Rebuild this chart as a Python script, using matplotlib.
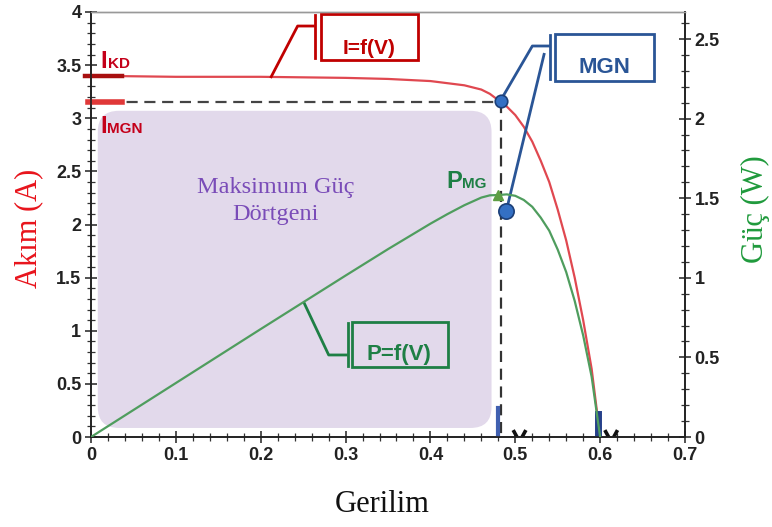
import matplotlib
matplotlib.use("Agg")
import matplotlib.pyplot as plt
from matplotlib.patches import FancyBboxPatch, Rectangle
from matplotlib.ticker import MultipleLocator, FuncFormatter

# ---------------- data ----------------
voltage = [0.0, 0.1, 0.2, 0.3, 0.35, 0.4, 0.42, 0.44, 0.46, 0.47, 0.48, 0.49,
           0.50, 0.51, 0.52, 0.53, 0.54, 0.55, 0.56, 0.57, 0.58, 0.59, 0.60]
current = [3.40, 3.39, 3.39, 3.38, 3.37, 3.35, 3.33, 3.31, 3.27, 3.23, 3.17, 3.11,
           3.03, 2.92, 2.78, 2.60, 2.40, 2.14, 1.85, 1.50, 1.10, 0.64, 0.0]
power = [0.0, 0.339, 0.678, 1.014, 1.18, 1.34, 1.40, 1.456, 1.504, 1.518, 1.52, 1.524,
         1.515, 1.489, 1.446, 1.378, 1.296, 1.177, 1.036, 0.855, 0.638, 0.378, 0.0]

i_kd = 3.40          # short-circuit current
v_mgn = 0.483        # MPP voltage
i_mgn = 3.15         # MPP current
p_mg = 1.52          # MPP power (W)
v_ad = 0.598         # open-circuit voltage
mgn_lower_dot_p = 1.42   # lower blue dot (in W)
v_label_pos = [0.505, 0.613]   # truncated "V" labels under the axis

x_ticks = [0, 0.1, 0.2, 0.3, 0.4, 0.5, 0.6, 0.7]
y_left_ticks = [0, 0.5, 1, 1.5, 2, 2.5, 3, 3.5, 4]
y_right_ticks = [0, 0.5, 1, 1.5, 2, 2.5]

# ---------------- style ----------------
RED_CURVE = "#e04850"
RED_TXT = "#c4001a"
GREEN_CURVE = "#4f9d5e"
GREEN_TXT = "#1e7f45"
BLUE = "#2a5596"
DOT = "#3470c4"
PURPLE_FILL = "#e2d9eb"
PURPLE_TXT = "#7a4cb8"
SANS = "Liberation Sans"
SERIF = "Liberation Serif"

W, H = 772, 527
fig = plt.figure(figsize=(W / 100, H / 100), dpi=100)
L, R, B, T = 91, 685, 437, 12
ax = fig.add_axes([L / W, 1 - B / H, (R - L) / W, (B - T) / H])
ax2 = ax.twinx()

ax.set_xlim(0, 0.7)
ax.set_ylim(0, 4)
ax2.set_ylim(0, 4 * 106.25 / 159.2)

fmt = FuncFormatter(lambda v, p: ("%g" % round(v, 3)))
ax.set_xticks(x_ticks)
ax.set_yticks(y_left_ticks)
ax2.set_yticks(y_right_ticks)
for a in (ax.xaxis, ax.yaxis, ax2.yaxis):
    a.set_major_formatter(fmt)
ax.xaxis.set_minor_locator(MultipleLocator(0.02))
ax.yaxis.set_minor_locator(MultipleLocator(0.1))
ax2.yaxis.set_minor_locator(MultipleLocator(0.1))

for a in (ax, ax2):
    a.tick_params(which="major", direction="inout", length=8, width=1.1, color="#222222",
                  labelsize=13, labelcolor="#222222", pad=3)
    a.tick_params(which="minor", direction="inout", length=6, width=0.9, color="#333333")
    for lab in a.get_xticklabels() + a.get_yticklabels():
        lab.set_fontfamily(SANS)
        lab.set_fontweight("bold")
for a in (ax, ax2):
    for s in ("left", "right", "bottom"):
        a.spines[s].set_color("#222222")
        a.spines[s].set_linewidth(1.2)
    a.spines["top"].set_color("#999999")
    a.spines["top"].set_linewidth(1.0)

# purple "maximum power rectangle" (rounded corners in pixel space)
x_px = 846.0  # pixels per volt
y_px = 106.25  # pixels per amp
rad = 21 / x_px
rect = FancyBboxPatch((0.008 + rad, 0.085 + rad * x_px / y_px),
                      0.472 - 0.008 - 2 * rad, 3.07 - 0.085 - 2 * rad * x_px / y_px,
                      boxstyle="round,pad=%f" % rad, mutation_aspect=x_px / y_px,
                      facecolor=PURPLE_FILL, edgecolor="none", zorder=1)
ax.add_patch(rect)
ax.text(0.2175, 2.22, "Maksimum Güç\nDörtgeni", color=PURPLE_TXT, family=SERIF,
        fontsize=17.5, ha="center", va="center", linespacing=1.35, zorder=2)

# dashed MPP guides
ax.plot([0, v_mgn], [i_mgn, i_mgn], color="#444444", lw=1.6, ls=(0, (5, 3)), zorder=3)
ax.plot([v_mgn, v_mgn], [i_mgn, 0], color="#333333", lw=1.6, ls=(0, (5, 3)), zorder=3)

# I-V curve
ax.plot(voltage, current, color=RED_CURVE, lw=1.6, zorder=4)
# P-V curve
ax2.plot(voltage, power, color=GREEN_CURVE, lw=1.6, zorder=4)
ax2.plot([v_mgn - 0.003], [p_mg], marker="^", ms=7, color="#5e9e44", zorder=5)

# short coloured markers on the axes
ax.plot([-0.007, 0.037], [i_kd, i_kd], color="#a81010", lw=3.2, clip_on=False, zorder=5)
ax.plot([-0.004, 0.037], [i_mgn, i_mgn], color="#e03838", lw=4, clip_on=False, zorder=5)
ax.plot([0.48, 0.48], [0, 0.27], color="#4060b0", lw=3, zorder=5)
ax.plot([v_ad, v_ad], [0, 0.22], color="#26408a", lw=5, zorder=5)

# tops of the truncated "V" labels peeking above the x axis
for vx in v_label_pos:
    ax.plot([vx - 0.0075, vx - 0.003], [0.065, 0.0], color="#111111", lw=2.6,
            solid_capstyle="butt", zorder=6)
    ax.plot([vx + 0.003, vx + 0.0075], [0.0, 0.065], color="#111111", lw=2.6,
            solid_capstyle="butt", zorder=6)

# labels I_KD, I_MGN, P_MG
def sub_label(x, y, big, small, color, xs):
    ax.text(x, y, big, family=SANS, fontweight="bold", fontsize=17, color=color,
            ha="left", va="baseline", zorder=7)
    ax.text(xs, y, small, family=SANS, fontweight="bold", fontsize=11, color=color,
            ha="left", va="baseline", zorder=7)

sub_label(0.0105, 3.473, "I", "KD", RED_TXT, 0.0195)
sub_label(0.0105, 2.861, "I", "MGN", RED_TXT, 0.0185)
sub_label(0.4185, 2.344, "P", "MG", GREEN_TXT, 0.4375)

# call-out boxes
def callout(x0, x1, y0, y1, barx, bary0, bary1, legs, text, tx, ty, color, fs):
    ax.add_patch(Rectangle((x0, y0), x1 - x0, y1 - y0, fill=False, edgecolor=color,
                           lw=2, clip_on=False, zorder=8))
    ax.plot([barx, barx], [bary0, bary1], color=color, lw=2, clip_on=False, zorder=8)
    for xs, ys in legs:
        ax.plot(xs, ys, color=color, lw=2, clip_on=False, zorder=8,
                solid_capstyle="butt")
    ax.text(tx, ty, text, color=color, family=SANS, fontweight="bold", fontsize=fs,
            ha="center", va="center", zorder=9)

callout(0.2707, 0.3853, 3.548, 3.981, 0.2636, 3.567, 3.972,
        [([0.2116, 0.2435, 0.2636], [3.379, 3.868, 3.868])],
        "I=f(V)", 0.3274, 3.655, "#c00000", 15)

callout(0.5473, 0.6631, 3.351, 3.793, 0.5414, 3.369, 3.784,
        [([0.4823, 0.5201, 0.5414], [3.162, 3.68, 3.68]),
         ([0.4894, 0.5343], [2.127, 3.614])],
        "MGN", 0.6052, 3.48, BLUE, 16)

callout(0.3073, 0.4208, 0.659, 1.082, 0.3026, 0.668, 1.073,
        [([0.2506, 0.2801, 0.3026], [1.271, 0.772, 0.772])],
        "P=f(V)", 0.3629, 0.772, GREEN_TXT, 16)

# blue MPP dots
ax.plot([v_mgn], [i_mgn + 0.01], marker="o", ms=9, mfc=DOT, mec="#1c3f78", mew=1.2,
        zorder=10, clip_on=False)
ax2.plot([0.4894], [mgn_lower_dot_p], marker="o", ms=11, mfc=DOT, mec="#1c3f78", mew=1.2,
         zorder=10)

# axis titles
fig.text(29 / W, 1 - 228 / H, "Akım (A)", family=SERIF, fontsize=22, color="#e8141c",
         rotation=90, ha="center", va="center")
fig.text(755 / W, 1 - 209 / H, "Güç (W)", family=SERIF, fontsize=22, color="#1f9a3c",
         rotation=90, ha="center", va="center")
fig.text(382 / W, 1 - 505 / H, "Gerilim", family=SERIF, fontsize=22, color="#111111",
         ha="center", va="center")

fig.savefig("out.png", dpi=100)
